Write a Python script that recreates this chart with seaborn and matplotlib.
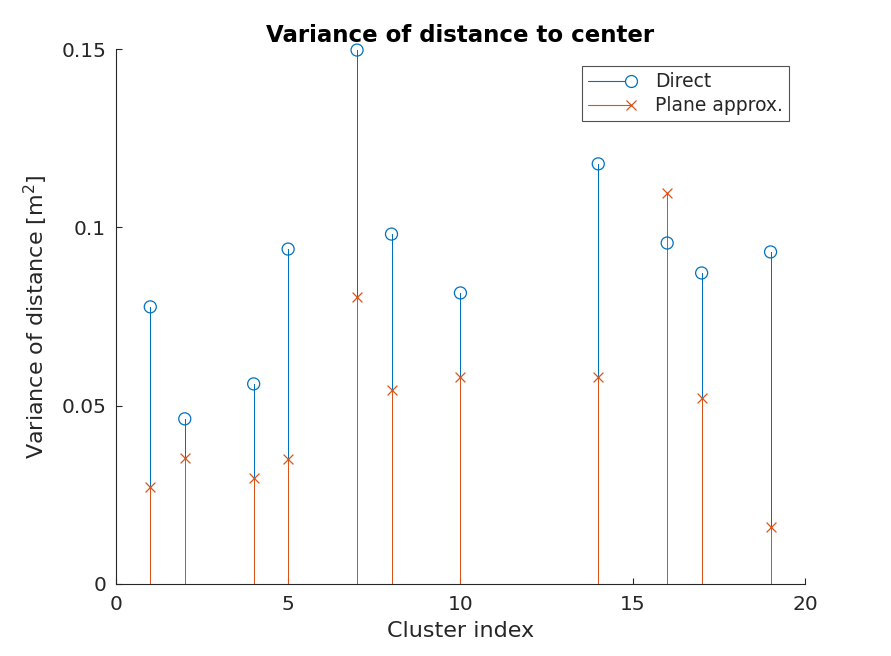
import seaborn as sns
import matplotlib.pyplot as plt
import pandas as pd
from matplotlib.legend_handler import HandlerBase
from matplotlib.lines import Line2D

cluster = [1, 2, 4, 5, 7, 8, 10, 14, 16, 17, 19]
direct = [0.0777, 0.0463, 0.0561, 0.0939, 0.1497, 0.0981, 0.0816, 0.1178, 0.0956, 0.0872, 0.0931]
plane = [0.0272, 0.0353, 0.0297, 0.0350, 0.0805, 0.0544, 0.0580, 0.0580, 0.1096, 0.0521, 0.0160]

blue = '#0072BD'
orange = '#D95319'


class StemHandler(HandlerBase):
    # line with the marker at its right end, like a matlab stem legend
    def create_artists(self, legend, orig, xd, yd, w, h, fs, trans):
        y = h / 2 - yd
        line = Line2D([-xd, w - xd], [y, y], color=orig.get_color(),
                      linewidth=orig.get_linewidth(), transform=trans)
        mark = Line2D([w - xd], [y], linestyle='none', marker=orig.get_marker(),
                      markersize=orig.get_markersize(), markerfacecolor='white',
                      markeredgecolor=orig.get_color(),
                      markeredgewidth=orig.get_markeredgewidth(), transform=trans)
        return [line, mark]


sns.set_theme(style='white')
plt.rcParams['font.family'] = ['DejaVu Sans']

df = pd.DataFrame({'cluster': cluster, 'direct': direct, 'plane': plane})

fig = plt.figure(figsize=(8.91, 6.56), dpi=100)
ax = fig.add_axes([0.130, 0.1098, 0.7735, 0.8155])

# stems, direct first then plane on top
ax.vlines(df['cluster'], 0, df['direct'], color=blue, linewidth=0.72,
          snap=True, antialiased=False)
sns.scatterplot(x='cluster', y='direct', data=df, ax=ax, marker='o', s=75,
                facecolor='none', edgecolor=blue, linewidth=0.9, zorder=3,
                clip_on=False)
ax.vlines(df['cluster'], 0, df['plane'], color=orange, linewidth=0.72,
          snap=True, antialiased=False)
sns.scatterplot(x='cluster', y='plane', data=df, ax=ax, marker='x', s=50,
                color=orange, linewidth=0.9, zorder=3, clip_on=False)

# legend proxies
h1, = ax.plot([], [], color=blue, linewidth=0.8, marker='o', markersize=8.6,
              markeredgewidth=0.9, label='Direct')
h2, = ax.plot([], [], color=orange, linewidth=0.8, marker='x', markersize=7,
              markeredgewidth=0.9, label='Plane approx.')
leg = ax.legend(handles=[h1, h2], loc='upper right', bbox_to_anchor=(0.985, 0.978),
                fontsize=13.5, frameon=True, fancybox=False, edgecolor='#262626',
                handlelength=2.3, handletextpad=1.3, borderpad=0.32,
                labelspacing=0.25, borderaxespad=0.3,
                handler_map={Line2D: StemHandler()})
leg.get_frame().set_linewidth(0.8)

ax.set_xlim(0, 20)
ax.set_ylim(0, 0.15)
ax.set_xticks([0, 5, 10, 15, 20])
ax.set_yticks([0, 0.05, 0.1, 0.15])
ax.set_yticklabels(['0', '0.05', '0.1', '0.15'])
ax.tick_params(direction='in', length=4.5, width=0.8, labelsize=14.5,
               colors='#262626', left=True, bottom=True)
ax.tick_params(axis='x', pad=8)
ax.tick_params(axis='y', pad=7)
for side in ['top', 'right']:
    ax.spines[side].set_visible(False)
for side in ['left', 'bottom']:
    ax.spines[side].set_color('#262626')
    ax.spines[side].set_linewidth(0.8)

ax.set_xlabel('Cluster index', fontsize=16, color='#262626', labelpad=5)
ax.set_ylabel('Variance of distance [m$^2$]', fontsize=16, color='#262626', labelpad=8)
ax.set_title('Variance of distance to center', fontsize=16.5, fontweight='bold',
             color='black', pad=5)

fig.savefig('out.png', dpi=100)
